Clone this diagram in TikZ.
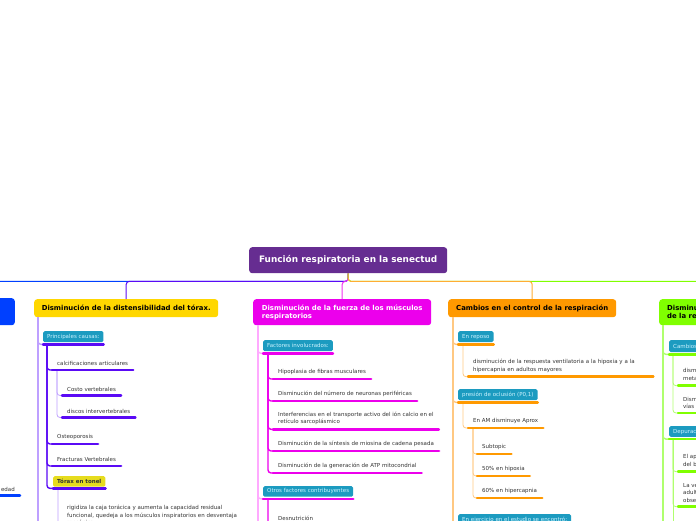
\documentclass[tikz,border=0pt]{standalone}
\usepackage{fontspec}
\setmainfont{DejaVu Sans}
\usetikzlibrary{calc}

\definecolor{rootpurple}{RGB}{102,45,145}
\definecolor{mainblue}{RGB}{0,64,255}
\definecolor{mainyellow}{RGB}{255,215,0}
\definecolor{tonelyellow}{RGB}{230,220,30}
\definecolor{mainmagenta}{RGB}{236,0,236}
\definecolor{mainorange}{RGB}{255,153,0}
\definecolor{maingreen}{RGB}{128,255,0}
\definecolor{tealfill}{RGB}{28,155,192}
\definecolor{tealtext}{RGB}{205,243,255}
\definecolor{leaftext}{RGB}{51,51,51}
\definecolor{violetC}{RGB}{90,10,245}
\definecolor{lavC}{RGB}{190,160,255}
\definecolor{pinkC}{RGB}{255,170,255}
\definecolor{lorangeC}{RGB}{255,200,130}
\definecolor{lgreenC}{RGB}{175,255,110}

\newcommand\leaffont{\fontsize{5.5}{7.7}\selectfont}

\begin{document}
\begin{tikzpicture}[x=1pt,y=-1pt,
  mainbox/.style={rounded corners=3pt,anchor=north west,inner xsep=7pt,align=left,
                  font=\fontsize{6.9}{8.2}\selectfont\bfseries},
  tealbox/.style={fill=tealfill,rounded corners=1.5pt,anchor=north west,inner xsep=4pt,
                  inner ysep=0pt,minimum height=11pt,text=tealtext,font=\leaffont},
  leaf/.style={anchor=south west,inner xsep=5pt,inner ysep=4pt,align=left,
               font=\leaffont,text=leaftext},
  bar/.style={line width=2.5pt,line cap=round},
  rootline/.style={line width=1pt,rounded corners=3pt},
  trunk/.style={line width=1.4pt,rounded corners=3pt},
  twig/.style={line width=0.8pt,rounded corners=3pt}]
  \useasboundingbox (0,0) rectangle (696,520);
  \clip (0,0) rectangle (696,520);

  % root and main topics
  \node[mainbox,fill=rootpurple,text=white,minimum width=198pt,minimum height=26pt,
        font=\fontsize{8.9}{10}\selectfont\bfseries] (root) at (249,247) {Función respiratoria en la senectud};
  \node[mainbox,fill=mainblue,minimum width=60pt,minimum height=27pt,anchor=north east] (edadbox) at (15,298) {};
  \node[mainbox,fill=mainyellow,minimum width=184pt,minimum height=18pt] (distens) at (34,299) {Disminución de la distensibilidad del tórax.};
  \node[mainbox,fill=mainmagenta,text=white,minimum width=178pt,minimum height=26pt] (fuerza) at (253,299) {Disminución de la fuerza de los músculos\\respiratorios};
  \node[mainbox,fill=mainorange,minimum width=168pt,minimum height=18pt] (control) at (448,299) {Cambios en el control de la respiración};
  \node[mainbox,fill=maingreen,inner xsep=8pt,minimum height=26pt] (defensa) at (659,299) {Disminución de los mecanismos\\de la respuesta inmune};

  % root connectors
  \draw[rootline,mainblue] (root.south) -- ++(0,8) -| (edadbox.north);
  \draw[rootline,violetC] (root.south) -- ++(0,8) -| (distens.north);
  \draw[rootline,mainmagenta!80] (root.south) -- ++(0,8) -| (fuerza.north);
  \draw[rootline,maingreen] (root.south) -- ++(0,8) -| (defensa.north);
  \draw[rootline,mainorange!80] (root.south) -- ++(0,8) -| (control.north);

  % left branch (cut off)
  \node[leaf,anchor=south east] (edad) at (20,495.5) {la edad};
  \draw[bar,mainblue] (edad.south west) -- (edad.south east);

  % distensibilidad del torax
  \node[tealbox] (causas) at (43,331) {Principales causas:};
  \node[leaf] (calcif) at (52,370) {calcificaciones articulares};
  \node[leaf] (costo) at (62,395.5) {Costo vertebrales};
  \node[leaf] (discos) at (62,417.5) {discos intervertebrales};
  \node[leaf] (osteo) at (52,444) {Osteoporosis};
  \node[leaf] (fract) at (52,466) {Fracturas Vertebrales};
  \node[tealbox,fill=tonelyellow,text=leaftext,minimum height=10.5pt,font=\leaffont\bfseries] (tonel) at (53,476) {Tórax en tonel};
  \node[leaf] (rigid) at (62,529) {rigidiza la caja torácica y aumenta la capacidad residual\\funcional, quedeja a los músculos inspiratorios en desventaja\\mecánica};
  \coordinate (distensEnd) at ($(distens.south west)+(4,240)$);

  \draw[trunk,lavC] ([xshift=4pt]distens.south west) |- ([yshift=-2pt]causas.south west);
  \draw[trunk,lavC] ([xshift=4pt]distens.south west) -- (distensEnd);
  \foreach \n in {calcif,osteo,fract}
    \draw[trunk,violetC] ([xshift=4pt,yshift=-2pt]causas.south west) |- (\n.south west);
  \draw[trunk,violetC] ([xshift=4pt,yshift=-2pt]causas.south west) |- ([yshift=-1.5pt]tonel.south west);
  \foreach \n in {costo,discos}
    \draw[twig,lavC] ([xshift=5pt]calcif.south west) |- (\n.south west);
  \draw[twig,lavC] ([xshift=5pt,yshift=-1.5pt]tonel.south west) |- (rigid.south west);
  \foreach \n in {calcif,costo,discos,osteo,fract,rigid}
    \draw[bar,violetC] (\n.south west) -- (\n.south east);
  \draw[bar,violetC] ([yshift=-2pt]causas.south west) -- ([yshift=-2pt]causas.south east);
  \draw[bar,violetC] ([yshift=-1.5pt]tonel.south west) -- ([yshift=-1.5pt]tonel.south east);

  % fuerza de los musculos respiratorios
  \node[tealbox] (factores) at (263,340) {Factores involucrados:};
  \node[leaf] (hipo) at (273,379) {Hipoplasia de fibras musculares};
  \node[leaf] (neur) at (273,401) {Disminución del número de neuronas periféricas};
  \node[leaf] (interf) at (273,429.3) {Interferencias en el transporte activo del ión calcio en el\\retículo sarcoplásmico};
  \node[leaf] (miosina) at (273,451) {Disminución de la síntesis de miosina de cadena pesada};
  \node[leaf] (atp) at (273,473) {Disminución de la generación de ATP mitocondrial};
  \node[tealbox,minimum height=10.5pt] (otros) at (263,486) {Otros factores contribuyentes};
  \node[leaf] (desnut) at (273,525) {Desnutrición};
  \coordinate (fuerzaEnd) at ($(fuerza.south west)+(5,230)$);

  \foreach \n in {factores,otros}
    \draw[trunk,pinkC] ([xshift=5pt]fuerza.south west) |- ([yshift=-2pt]\n.south west);
  \draw[trunk,pinkC] ([xshift=5pt]fuerza.south west) -- (fuerzaEnd);
  \foreach \n in {hipo,neur,interf,miosina,atp}
    \draw[trunk,mainmagenta] ([xshift=5pt,yshift=-2pt]factores.south west) |- (\n.south west);
  \draw[trunk,mainmagenta] ([xshift=5pt,yshift=-2pt]otros.south west) |- (desnut.south west);
  \foreach \n in {hipo,neur,interf,miosina,atp,desnut}
    \draw[bar,mainmagenta] (\n.south west) -- (\n.south east);
  \foreach \n in {factores,otros}
    \draw[bar,mainmagenta] ([yshift=-2pt]\n.south west) -- ([yshift=-2pt]\n.south east);

  % control de la respiracion
  \node[tealbox] (reposo) at (458,331) {En reposo};
  \node[leaf,text width=175pt] (respuesta) at (468,376.7) {disminución de la respuesta ventilatoria a la hipoxia y a la\\hipercapnia en adultos mayores};
  \node[tealbox] (oclusion) at (458,389) {presión de oclusión (P0,1)};
  \node[leaf] (aprox) at (468,428) {En AM disminuye Aprox};
  \node[leaf] (subt) at (477,454) {Subtopic};
  \node[leaf] (hipoxia) at (477,476) {50\% en hipoxia};
  \node[leaf] (hipercap) at (477,498) {60\% en hipercapnia};
  \node[tealbox] (ejercicio) at (458,514) {En ejercicio en el estudio se encontró:};
  \coordinate (controlEnd) at ($(control.south west)+(5,240)$);

  \foreach \n in {reposo,oclusion,ejercicio}
    \draw[trunk,lorangeC] ([xshift=5pt]control.south west) |- ([yshift=-2pt]\n.south west);
  \draw[trunk,lorangeC] ([xshift=5pt]control.south west) -- (controlEnd);
  \draw[twig,lorangeC] ([xshift=5pt,yshift=-2pt]reposo.south west) |- (respuesta.south west);
  \draw[twig,lorangeC] ([xshift=5pt,yshift=-2pt]oclusion.south west) |- (aprox.south west);
  \foreach \n in {subt,hipoxia,hipercap}
    \draw[twig,lorangeC] ([xshift=5pt]aprox.south west) |- (\n.south west);
  \foreach \n in {respuesta,aprox,subt,hipoxia,hipercap}
    \draw[bar,mainorange] (\n.south west) -- (\n.south east);
  \foreach \n in {reposo,oclusion,ejercicio}
    \draw[bar,mainorange] ([yshift=-2pt]\n.south west) -- ([yshift=-2pt]\n.south east);

  % respuesta inmune (cut off)
  \node[tealbox,minimum height=12pt] (cambios) at (669,340) {Cambios celulares};
  \node[leaf] (metab) at (678,385.7) {disminución de la\\metaplasia};
  \node[leaf] (vias) at (678,413) {Disminución de las\\vías aéreas};
  \node[tealbox,minimum height=10.7pt] (depuracion) at (669,426) {Depuración mucociliar};
  \node[leaf] (aparato) at (678,471.7) {El aparato mucociliar\\del bronquio};
  \node[leaf] (velocidad) at (678,506.7) {La velocidad de\\adultos mayores\\observa};
  \coordinate (defensaEnd) at ($(defensa.south west)+(4,230)$);
  \coordinate (depuraEnd) at ($(depuracion.south west)+(4,110)$);

  \foreach \n in {cambios,depuracion}
    \draw[trunk,lgreenC] ([xshift=4pt]defensa.south west) |- ([yshift=-2pt]\n.south west);
  \draw[trunk,lgreenC] ([xshift=4pt]defensa.south west) -- (defensaEnd);
  \foreach \n in {metab,vias}
    \draw[twig,lgreenC] ([xshift=4pt,yshift=-2pt]cambios.south west) |- (\n.south west);
  \foreach \n in {aparato,velocidad}
    \draw[twig,lgreenC] ([xshift=4pt,yshift=-2pt]depuracion.south west) |- (\n.south west);
  \draw[twig,lgreenC] ([xshift=4pt,yshift=-2pt]depuracion.south west) -- (depuraEnd);
  \foreach \n in {metab,vias,aparato,velocidad}
    \draw[bar,maingreen] (\n.south west) -- (\n.south east);
  \foreach \n in {cambios,depuracion}
    \draw[bar,maingreen] ([yshift=-2pt]\n.south west) -- ([yshift=-2pt]\n.south east);
\end{tikzpicture}
\end{document}
